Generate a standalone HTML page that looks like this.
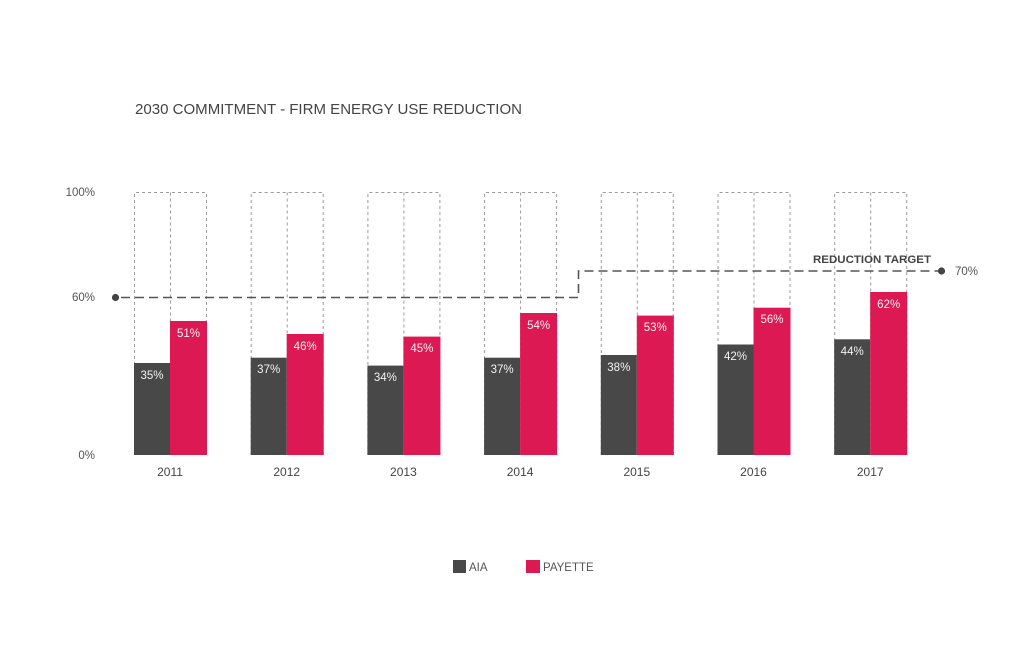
<!DOCTYPE html>
<html><head><meta charset="utf-8"><style>
html,body{margin:0;padding:0;background:#fff;}
svg{display:block;}
text{font-family:"Liberation Sans",Arial,sans-serif;}
</style></head><body>
<svg width="1024" height="663" viewBox="0 0 1024 663" xmlns="http://www.w3.org/2000/svg">
<rect width="1024" height="663" fill="#fff"/>
<text x="135" y="114" font-size="15" fill="#444" textLength="387" lengthAdjust="spacingAndGlyphs">2030 COMMITMENT - FIRM ENERGY USE REDUCTION</text>

<g font-size="11.5" fill="#555" text-anchor="end">
<text x="95" y="196">100%</text>
<text x="95" y="301">60%</text>
<text x="95" y="459">0%</text>
</g>

<!-- dashed boxes -->
<g fill="none" stroke="#9a9a9a" stroke-width="1" stroke-dasharray="3,3">
<path d="M134.5 455 V192.5 H206.5 V455 M170.5 192.5 V455"/>
<path d="M251.2 455 V192.5 H323.2 V455 M287.2 192.5 V455"/>
<path d="M367.9 455 V192.5 H439.9 V455 M403.9 192.5 V455"/>
<path d="M484.6 455 V192.5 H556.6 V455 M520.6 192.5 V455"/>
<path d="M601.3 455 V192.5 H673.3 V455 M637.3 192.5 V455"/>
<path d="M718 455 V192.5 H790 V455 M754 192.5 V455"/>
<path d="M834.7 455 V192.5 H906.7 V455 M870.7 192.5 V455"/>
</g>

<!-- bars -->
<g id="bars">
<rect x="134" y="363" width="36" height="92" fill="#484848"/>
<rect x="170" y="321" width="37" height="134" fill="#dc1953"/>
<rect x="250.7" y="357.7" width="36" height="97.3" fill="#484848"/>
<rect x="286.7" y="334" width="37" height="121" fill="#dc1953"/>
<rect x="367.4" y="365.6" width="36" height="89.4" fill="#484848"/>
<rect x="403.4" y="336.6" width="37" height="118.4" fill="#dc1953"/>
<rect x="484.1" y="357.7" width="36" height="97.3" fill="#484848"/>
<rect x="520.1" y="313" width="37" height="142" fill="#dc1953"/>
<rect x="600.8" y="355" width="36" height="100" fill="#484848"/>
<rect x="636.8" y="315.6" width="37" height="139.4" fill="#dc1953"/>
<rect x="717.5" y="344.5" width="36" height="110.5" fill="#484848"/>
<rect x="753.5" y="307.7" width="37" height="147.3" fill="#dc1953"/>
<rect x="834.2" y="339.3" width="36" height="115.7" fill="#484848"/>
<rect x="870.2" y="292" width="37" height="163" fill="#dc1953"/>
</g>

<!-- value labels -->
<g font-size="11.5" fill="#f2f2f2" text-anchor="middle">
<text x="152" y="379">35%</text>
<text x="188.5" y="337">51%</text>
<text x="268.7" y="373">37%</text>
<text x="305.2" y="350">46%</text>
<text x="385.4" y="381">34%</text>
<text x="421.9" y="352">45%</text>
<text x="502.1" y="373">37%</text>
<text x="538.6" y="329">54%</text>
<text x="618.8" y="371">38%</text>
<text x="655.3" y="331">53%</text>
<text x="735.5" y="360">42%</text>
<text x="772" y="323">56%</text>
<text x="852.2" y="355">44%</text>
<text x="888.7" y="308">62%</text>
</g>

<!-- year labels -->
<g font-size="12" fill="#444" text-anchor="middle">
<text x="170" y="476">2011</text>
<text x="286.7" y="476">2012</text>
<text x="403.4" y="476">2013</text>
<text x="520.1" y="476">2014</text>
<text x="636.8" y="476">2015</text>
<text x="753.5" y="476">2016</text>
<text x="870.2" y="476">2017</text>
</g>

<!-- target line -->
<path d="M121 297.5 H578.5 V271 H938" fill="none" stroke="#555" stroke-width="1.6" stroke-dasharray="9,5"/>
<circle cx="115.5" cy="297.5" r="3.6" fill="#444"/>
<circle cx="941.5" cy="271" r="3.6" fill="#444"/>
<text x="813" y="263" font-size="11" font-weight="bold" fill="#444" textLength="118" lengthAdjust="spacingAndGlyphs">REDUCTION TARGET</text>
<text x="955" y="275" font-size="11.5" fill="#555">70%</text>

<!-- legend -->
<rect x="453" y="560" width="13" height="13" fill="#484848"/>
<text x="469" y="571" font-size="11.5" fill="#555">AIA</text>
<rect x="526" y="560" width="14" height="13" fill="#dc1953"/>
<text x="543" y="571" font-size="11.5" fill="#555">PAYETTE</text>
</svg>
</body></html>
